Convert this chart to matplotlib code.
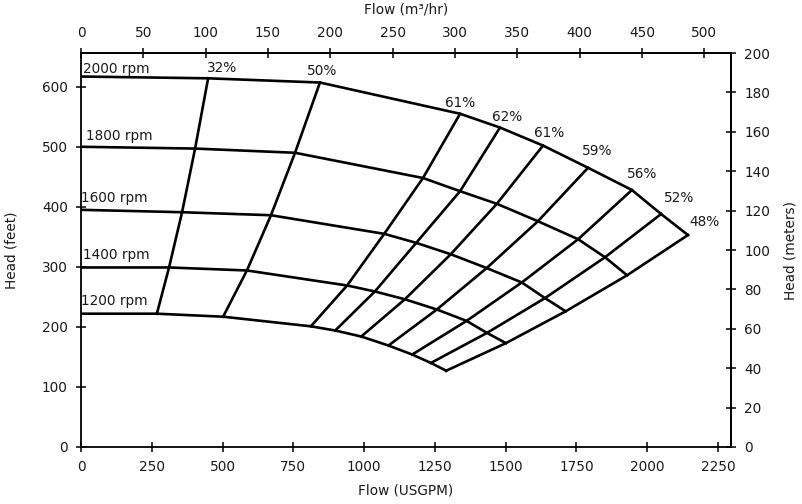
import matplotlib
matplotlib.use('Agg')
import matplotlib.pyplot as plt

# ---- data ----
speeds = ['2000 rpm', '1800 rpm', '1600 rpm', '1400 rpm', '1200 rpm']
eff_labels = ['32%', '50%', '61%', '62%', '61%', '59%', '56%', '52%', '48%']

q_2000 = [0, 449, 844, 1339, 1480, 1632, 1791, 1946, 2049, 2144]
h_2000 = [617, 614, 607, 555, 532, 502, 465, 428, 388, 353]
q_1800 = [0, 403, 756, 1208, 1339, 1469, 1614, 1756, 1851, 1929]
h_1800 = [500, 497, 490, 448, 426, 405, 376, 346, 316, 286]
q_1600 = [0, 357, 671, 1071, 1184, 1306, 1433, 1557, 1639, 1712]
h_1600 = [395, 391, 386, 355, 340, 321, 298, 274, 248, 226]
q_1400 = [0, 311, 586, 940, 1038, 1144, 1257, 1362, 1434, 1501]
h_1400 = [299, 299, 294, 269, 259, 246, 229, 210, 190, 173]
q_1200 = [0, 268, 502, 812, 898, 990, 1086, 1170, 1236, 1290]
h_1200 = [222, 222, 217, 201, 194, 184, 169, 154, 140, 127]

flows = [q_2000, q_1800, q_1600, q_1400, q_1200]
heads = [h_2000, h_1800, h_1600, h_1400, h_1200]

x_ticks = list(range(0, 2251, 250))
y_ticks = list(range(0, 601, 100))
top_ticks = list(range(0, 501, 50))
right_ticks = list(range(0, 201, 20))

GPM_PER_M3H = 4.40287
FT_PER_M = 3.28084

# ---- style ----
TXT = '#1a1a1a'
plt.rcParams['font.family'] = ['DejaVu Sans']
LW = 1.9
FS = 9.8

fig = plt.figure(figsize=(8.03, 5.04), dpi=100)
ax = fig.add_axes([81 / 803, 57 / 504, 650 / 803, 394 / 504])
ax.set_xlim(0, 2296)
ax.set_ylim(0, 200 * FT_PER_M)

# speed curves
for q, h in zip(flows, heads):
    ax.plot(q, h, color='black', lw=LW, solid_joinstyle='miter')

# efficiency lines (connect same node across speeds)
for j in range(1, len(q_2000)):
    ax.plot([q[j] for q in flows], [h[j] for h in heads], color='black',
            lw=LW, solid_joinstyle='miter')

# speed labels
rpm_off = [(2, 8), (5, 11), (0, 12), (2, 12), (0, 13)]
for lab, q, h, off in zip(speeds, flows, heads, rpm_off):
    ax.annotate(lab, (q[0], h[0]), xytext=off, textcoords='offset pixels',
                ha='left', va='center', fontsize=FS, color=TXT)

# efficiency labels
eff_off = [(14, 10), (2, 12), (0, 11), (7, 11), (6, 13), (9, 17), (10, 16), (18, 16), (17, 13)]
for lab, q, h, off in zip(eff_labels, q_2000[1:], h_2000[1:], eff_off):
    ax.annotate(lab, (q, h), xytext=off, textcoords='offset pixels',
                ha='center', va='center', fontsize=FS, color=TXT)

# axes / ticks
ax.set_xticks(x_ticks)
ax.set_yticks(y_ticks)
tick_kw = dict(direction='inout', length=7, width=1.1, labelsize=FS,
               labelcolor=TXT, color='black')
ax.tick_params(axis='both', pad=6, **tick_kw)
for s in ax.spines.values():
    s.set_linewidth(1.3)

secx = ax.secondary_xaxis('top', functions=(lambda q: q / GPM_PER_M3H,
                                            lambda m: m * GPM_PER_M3H))
secx.set_xticks(top_ticks)
secx.tick_params(axis='x', pad=6, **tick_kw)
secx.spines['top'].set_linewidth(1.3)

secy = ax.secondary_yaxis('right', functions=(lambda h: h / FT_PER_M,
                                              lambda m: m * FT_PER_M))
secy.set_yticks(right_ticks)
secy.tick_params(axis='y', pad=6, **tick_kw)
secy.spines['right'].set_linewidth(1.3)

ax.set_xlabel('Flow (USGPM)', fontsize=FS, color=TXT, labelpad=7)
ax.set_ylabel('Head (feet)', fontsize=FS, color=TXT, labelpad=17)
secx.set_xlabel('Flow (m³/hr)', fontsize=FS, color=TXT, labelpad=9)
secy.set_ylabel('Head (meters)', fontsize=FS, color=TXT, labelpad=10)

fig.savefig('out.png', dpi=100)
